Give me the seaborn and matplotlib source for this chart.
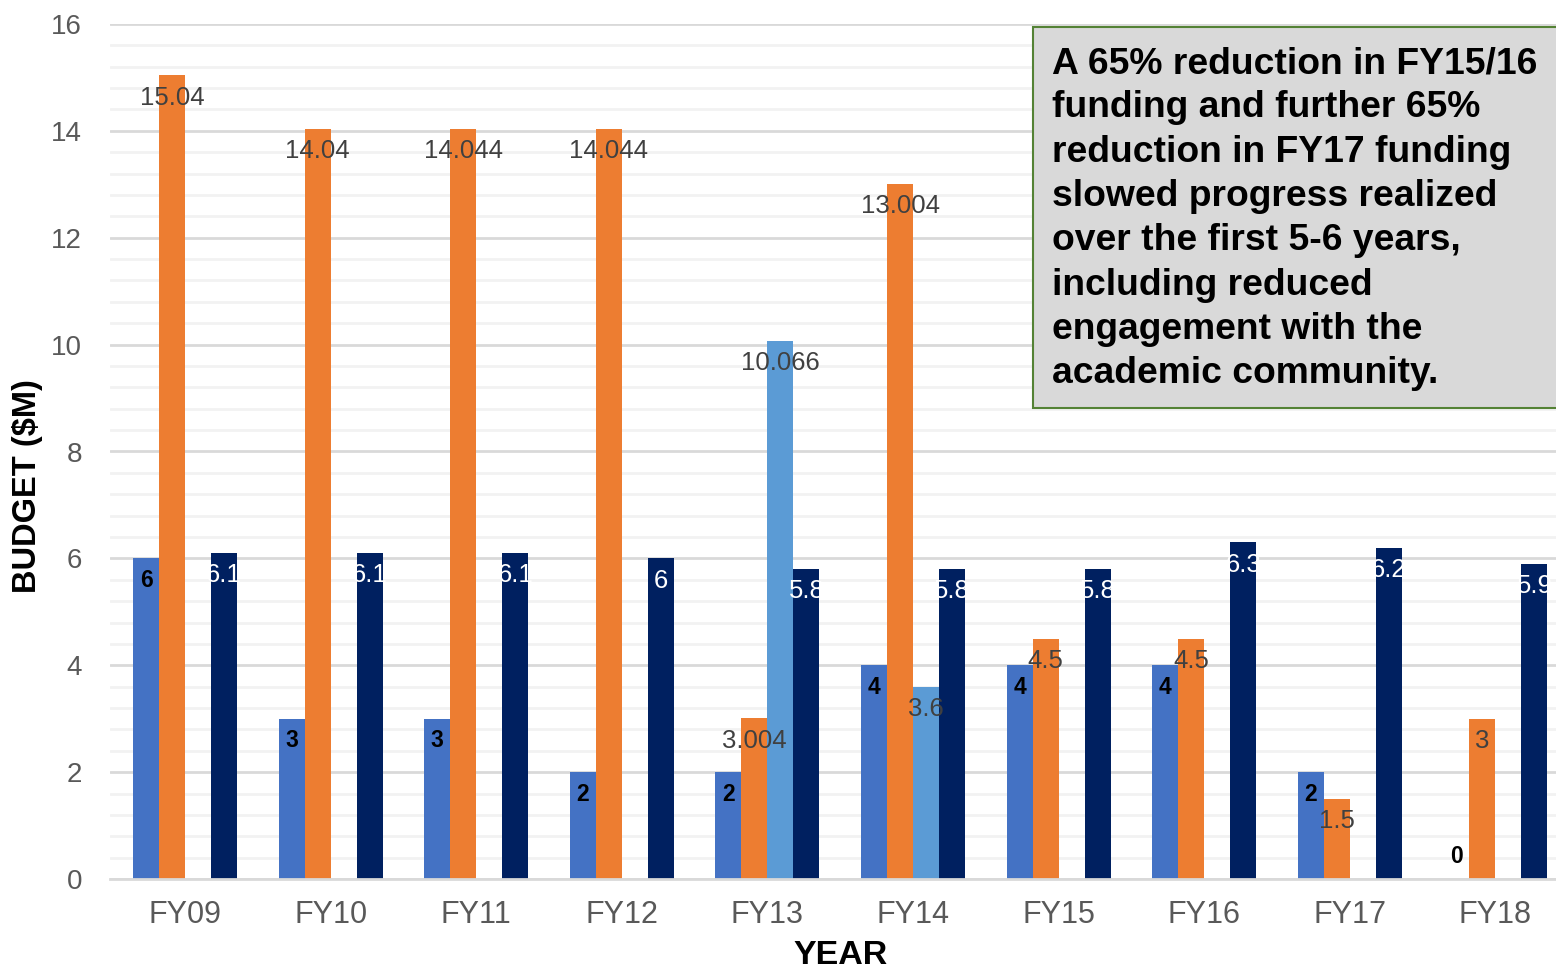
import numpy as np
import pandas as pd
import matplotlib
matplotlib.use("Agg")
import matplotlib.pyplot as plt
import seaborn as sns
from matplotlib.patches import Rectangle
from matplotlib.ticker import MultipleLocator

# Budget by fiscal year ($M), four funding lines
years = ["FY09", "FY10", "FY11", "FY12", "FY13", "FY14", "FY15", "FY16", "FY17", "FY18"]
series_a = [6, 3, 3, 2, 2, 4, 4, 4, 2, 0]
series_b = [15.04, 14.04, 14.044, 14.044, 3.004, 13.004, 4.5, 4.5, 1.5, 3]
series_c = [np.nan, np.nan, np.nan, np.nan, 10.066, 3.6, np.nan, np.nan, np.nan, np.nan]
series_d = [6.1, 6.1, 6.1, 6, 5.8, 5.8, 5.8, 6.3, 6.2, 5.9]
series_names = ["A", "B", "C", "D"]

note_lines = [
    "A 65% reduction in FY15/16",
    "funding and further 65%",
    "reduction in FY17 funding",
    "slowed progress realized",
    "over the first 5-6 years,",
    "including reduced",
    "engagement with the",
    "academic community.",
]

palette = ["#4472C4", "#ED7D31", "#5B9BD5", "#002060"]
label_styles = [
    dict(color="black", fontweight="bold", fontsize=16.5),
    dict(color="#404040", fontweight="normal", fontsize=18.5),
    dict(color="#404040", fontweight="normal", fontsize=18.5),
    dict(color="white", fontweight="normal", fontsize=18.5),
]

frames = []
for name, vals in zip(series_names, [series_a, series_b, series_c, series_d]):
    frames.append(pd.DataFrame({"year": years, "series": name, "value": vals}))
df = pd.concat(frames, ignore_index=True).dropna()

sns.set_theme(style="white")
plt.rcParams["font.family"] = ["Liberation Sans", "DejaVu Sans"]

W, H = 1556, 972
fig = plt.figure(figsize=(W / 100, H / 100), dpi=100)
ax_left, ax_right, ax_top, ax_bottom = 110, 1556, 24, 879
ax = fig.add_axes([ax_left / W, (H - ax_bottom) / H,
                   (ax_right - ax_left) / W, (ax_bottom - ax_top) / H])

sns.barplot(data=df, x="year", y="value", hue="series", order=years,
            hue_order=series_names, palette=palette, width=0.714, gap=0,
            saturation=1, linewidth=0, legend=False, ax=ax)

ax.set_ylim(0, 16)
ax.set_xlim(-0.515, 9.416)
ax.yaxis.set_major_locator(MultipleLocator(2))
ax.yaxis.set_minor_locator(MultipleLocator(0.4))
ax.grid(which="major", axis="y", color="#D9D9D9", linewidth=2.0)
ax.grid(which="minor", axis="y", color="#F2F2F2", linewidth=2.0)
ax.grid(which="major", axis="x", visible=False)
ax.set_axisbelow(True)
for side in ["left", "right", "top"]:
    ax.spines[side].set_visible(False)
ax.spines["bottom"].set_color("#D9D9D9")
ax.spines["bottom"].set_linewidth(2.0)
ax.tick_params(axis="both", which="both", length=0)
ax.tick_params(axis="y", labelsize=20, labelcolor="#595959", pad=20)
ax.tick_params(axis="x", labelsize=22, labelcolor="#595959", pad=15)

ax.set_xlabel("YEAR", fontsize=24.5, fontweight="bold", color="black")
ax.set_ylabel("BUDGET ($M)", fontsize=23.5, fontweight="bold", color="black")
ax.xaxis.set_label_coords(0.505, -0.071)
ax.yaxis.set_label_coords(-0.046, 0.46)

# Value labels just inside the top of each bar
for container, style in zip(ax.containers, label_styles):
    for bar in container:
        h = bar.get_height()
        if np.isnan(h):
            continue
        cx = bar.get_x() + bar.get_width() / 2
        dy = -16 if h > 0 else 16
        ax.annotate(f"{h:g}", (cx, h), xytext=(0, dy), textcoords="offset points",
                    ha="center", va="center", **style)

# Commentary box
bx0, by0, bx1, by1 = 1033, 27, 1575, 408
fig.patches.append(Rectangle((bx0 / W, 1 - by1 / H), (bx1 - bx0) / W, (by1 - by0) / H,
                             transform=fig.transFigure, facecolor="#D9D9D9",
                             edgecolor="#548235", linewidth=1.5, zorder=5))
base0, step = 73, 44.3
for i, line in enumerate(note_lines):
    fig.text(1052 / W, 1 - (base0 + i * step) / H, line, fontsize=26.8,
             fontweight="bold", color="black", ha="left", va="baseline", zorder=6)

fig.savefig("out.png", dpi=100)
